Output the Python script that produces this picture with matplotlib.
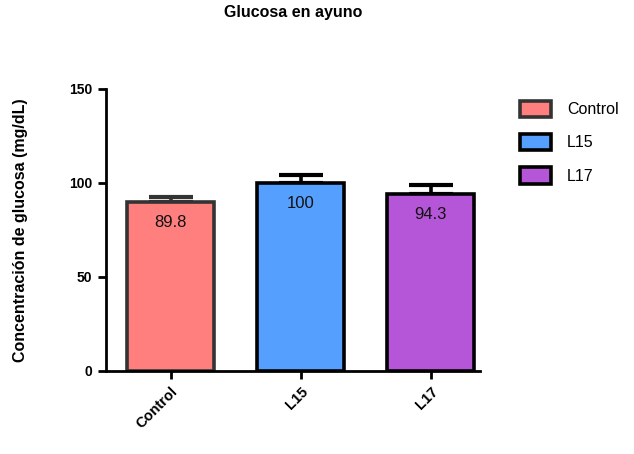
import numpy as np
import matplotlib.pyplot as plt

plt.rcParams['font.family'] = ['Liberation Sans', 'DejaVu Sans']

# Glucosa en ayuno: media y error por grupo
grupos = ['Control', 'L15', 'L17']
medias = [89.8, 100, 94.3]
errores = [2.5, 4.0, 4.5]
relleno = ['#FF7F7F', '#55A0FF', '#B556D8']
bordes = ['#333333', '#000000', '#000000']

fig = plt.figure(figsize=(6.34, 4.54), dpi=100)
ax = fig.add_axes([0.167, 0.183, 0.59, 0.621])

x = np.arange(len(grupos))
barras = ax.bar(x, medias, width=0.67, color=relleno, edgecolor=bordes,
                linewidth=2.6, label=grupos, zorder=2)

# error solo hacia arriba
for xi, m, e, c in zip(x, medias, errores, bordes):
    ax.errorbar(xi, m, yerr=[[0], [e]], fmt='none', ecolor=c,
                elinewidth=2.6, capsize=16, capthick=3, zorder=1)
    ax.text(xi, m - 11, f'{m:g}', ha='center', va='center', fontsize=12,
            color='#111111', zorder=3)

ax.set_xlim(-0.5, 2.38)
ax.set_ylim(0, 150)
ax.set_yticks([0, 50, 100, 150])
ax.set_xticks(x)
ax.set_xticklabels(grupos, rotation=45, ha='right', rotation_mode='anchor',
                   fontweight='bold', fontsize=10.5)
for lab in ax.get_yticklabels():
    lab.set_fontweight('bold')
    lab.set_fontsize(10)

for s in ['top', 'right']:
    ax.spines[s].set_visible(False)
for s in ['left', 'bottom']:
    ax.spines[s].set_linewidth(2)
ax.tick_params(width=2, length=6, direction='out', pad=4)

ax.set_title('Glucosa en ayuno', fontweight='bold', fontsize=11.5, pad=52)
ax.set_ylabel('Concentración de glucosa (mg/dL)', fontweight='bold',
              fontsize=11.5, labelpad=29)

leg = ax.legend(loc='upper left', bbox_to_anchor=(1.07, 1.01), frameon=False,
                fontsize=11.5, handlelength=1.9, handleheight=1.2,
                labelspacing=1.05, handletextpad=1.0)

plt.savefig('out.png', dpi=100)
